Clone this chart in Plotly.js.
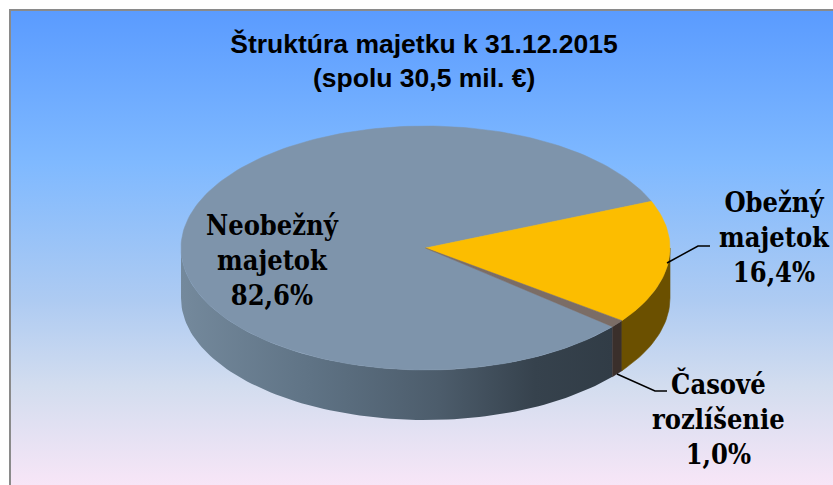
<!DOCTYPE html>
<html><head><meta charset="utf-8">
<script src="https://cdn.plot.ly/plotly-3.0.1.min.js"></script>
<style>html,body{margin:0;padding:0;background:#fff}#c{width:833px;height:485px}</style></head>
<body><div id="c"></div>
<script>
const categories = ['Neobežný<br>majetok', 'Obežný<br>majetok', 'Časové<br>rozlíšenie'];
const values = [82.6, 16.4, 1.0];
const topColors = ['#7e94ab', '#fcbd00', '#7b6d66'];
const sideColors = ['#5f7385', '#6b5000', '#3a2f2b'];
const titleLine1 = '<b>Štruktúra majetku k 31.12.2015</b>';
const titleLine2 = '<b>(spolu 30,5 mil. €)</b>';

const W = 833, H = 485;
const cx = 425.5, cy = 248, rx = 244.5, ry = 122, depth = 50;
const rad = d => d * Math.PI / 180;
const px = a => cx + rx * Math.cos(rad(a));
const py = a => cy - ry * Math.sin(rad(a));
const total = values.reduce((a, b) => a + b, 0);

function arc(a0, a1) {
  const out = [], n = Math.max(2, Math.ceil(Math.abs(a1 - a0) / 1.5));
  for (let i = 0; i <= n; i++) out.push(a0 + (a1 - a0) * i / n);
  return out;
}
// slices run clockwise: Obežný starts at 22.5°, then Časové, then Neobežný
const order = [1, 2, 0];
let ang = 22.5;
const spans = {};
order.forEach(i => { const s = values[i] / total * 360; spans[i] = [ang, ang - s]; ang -= s; });

const traces = [];
// background
traces.push({x:[10,W+2,W+2,10,10], y:[10,10,H+2,H+2,10], type:'scatter', mode:'lines', fill:'toself',
  line:{color:'rgba(0,0,0,0)', width:0}, hoverinfo:'skip',
  fillgradient:{type:'vertical', colorscale:[[0,'#f8e6f7'],[0.21,'#d3ddef'],[0.39,'#aecbf2'],[0.68,'#7fb9ff'],[1,'#5a9bff']]}});
traces.push({x:[10,10,W+2], y:[H+2,10,10], type:'scatter', mode:'lines', line:{color:'#8a8a8a', width:2}, hoverinfo:'skip'});

function wall(i, gradient) {
  const [a0, a1] = spans[i];
  const lo = Math.max(Math.min(a0, a1), -180), hi = Math.min(Math.max(a0, a1), 0);
  if (hi <= lo) return;
  const as = arc(hi, lo);
  const xs = as.map(px), ys = as.map(py);
  const t = {x: xs.concat(xs.slice().reverse(), xs[0]),
    y: ys.map(v => v + depth).concat(ys.slice().reverse(), ys[0] + depth),
    type:'scatter', mode:'lines', fill:'toself', line:{width:0.6, color:sideColors[i]}, hoverinfo:'skip'};
  if (gradient) { t.fillgradient = gradient; t.line.color = 'rgba(0,0,0,0)'; t.line.width = 0; }
  else t.fillcolor = sideColors[i];
  traces.push(t);
}
wall(0, {type:'horizontal', colorscale:[[0,'#74899c'],[0.3,'#5f7385'],[0.6,'#4c5c6b'],[0.82,'#36424d'],[1,'#313c46']]});
wall(2);
wall(1);
// top faces
[0, 1, 2].forEach(i => {
  const as = arc(spans[i][0], spans[i][1]);
  traces.push({x:[cx].concat(as.map(px), cx), y:[cy].concat(as.map(py), cy),
    type:'scatter', mode:'lines', fill:'toself', fillcolor:topColors[i],
    line:{width:0.5, color:topColors[i]}, hoverinfo:'skip'});
});
// leader lines
traces.push({x:[667,698,710], y:[263,246,246], type:'scatter', mode:'lines', line:{color:'#000', width:1.5}, hoverinfo:'skip'});
traces.push({x:[617,655,667], y:[374,391,391], type:'scatter', mode:'lines', line:{color:'#000', width:1.5}, hoverinfo:'skip'});

const labelFont = {family:'"DejaVu Serif Condensed","DejaVu Serif",serif', size:27, color:'#000'};
const titleFont = {family:'"Liberation Sans",Arial,sans-serif', size:26.5, color:'#000'};
const pct = v => v.toFixed(1).replace('.', ',') + '%';
const labelPos = [[272.5,260],[774.5,237],[718,418]];
const annotations = categories.map((c, i) => ({
  x: labelPos[i][0], y: labelPos[i][1], xref:'x', yref:'y', showarrow:false, align:'center',
  text:'<b>' + c + '<br>' + pct(values[i]) + '</b>', font:labelFont, xanchor:'center', yanchor:'middle'
}));
annotations.push({x:424, y:78, xref:'x', yref:'y', showarrow:false, text:titleLine2, font:titleFont, xanchor:'center', yanchor:'middle'});

const axis = {visible:false, fixedrange:true, showgrid:false, zeroline:false};
Plotly.newPlot('c', traces, {
  width:W, height:H, margin:{l:0,r:0,t:0,b:0}, showlegend:false,
  paper_bgcolor:'#fff', plot_bgcolor:'rgba(0,0,0,0)',
  xaxis:Object.assign({range:[0,W]}, axis),
  yaxis:Object.assign({range:[H,0]}, axis),
  title:{text:titleLine1, x:424/W, xanchor:'center', y:1-44/H, yanchor:'middle', font:titleFont},
  annotations
}, {displayModeBar:false, staticPlot:true});
</script></body></html>
